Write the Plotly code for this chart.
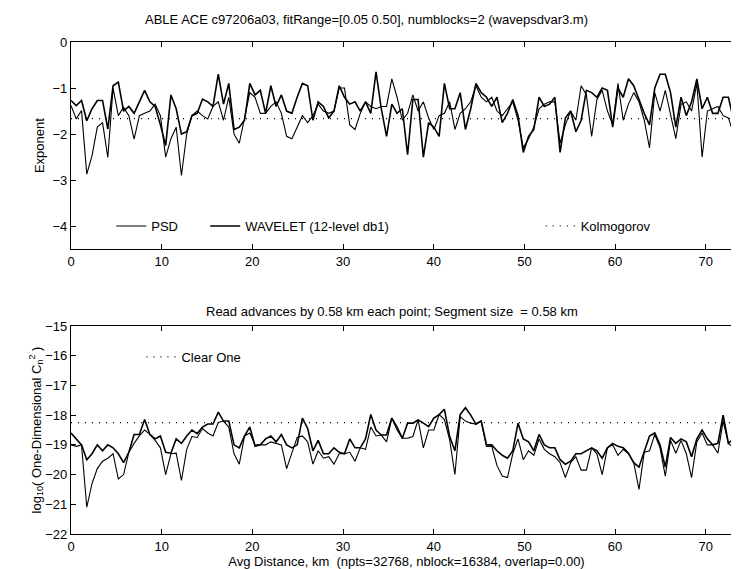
import plotly.graph_objects as go

# spacing between points (km), from the subtitle
step = 0.58
npts = 128

# exponent from the wavelet fit
wavelet_exp = [
    -1.27, -1.38, -1.27, -1.71, -1.45, -1.27, -1.27, -1.89, -0.95, -0.87,
    -1.5, -1.4, -1.55, -1.3, -1.05, -1.3, -1.4, -1.8, -2.25, -1.15,
    -1.45, -2.0, -1.95, -1.6, -1.55, -1.24, -1.3, -1.4, -0.7, -1.35,
    -0.9, -1.9, -1.85, -1.7, -0.9, -1.15, -1.05, -1.55, -0.95, -1.4,
    -1.15, -1.5, -1.55, -1.2, -0.9, -0.95, -1.7, -1.3, -1.4, -1.65,
    -1.5, -0.95, -1.2, -1.35, -1.3, -1.5, -1.3, -1.55, -0.65, -1.45,
    -2.05, -1.35, -1.55, -1.45, -2.45, -1.25, -1.25, -2.5, -1.75, -1.85,
    -2.05, -0.9, -1.45, -1.45, -1.1, -1.9, -1.45, -0.9, -1.1, -1.2,
    -1.4, -1.2, -1.75, -1.55, -1.25, -1.6, -2.4, -2.05, -1.9, -1.2,
    -1.4, -1.35, -1.2, -2.4, -1.65, -1.5, -1.95, -1.7, -1.05, -1.1,
    -1.2, -1.0, -1.05, -1.85, -1.0, -1.2, -0.8, -0.95, -1.25, -1.55,
    -1.8, -1.0, -0.7, -0.7, -1.1, -1.85, -1.2, -1.6, -1.3, -0.8,
    -1.45, -1.2, -1.55, -1.55, -1.2, -1.2, -1.7, -1.75,
]

# exponent from the PSD fit
psd_exp = [
    -1.38, -1.67, -1.49, -2.87, -2.47, -1.85, -1.75, -2.51, -1.0, -1.6,
    -1.42, -1.6, -2.11, -1.6, -1.55, -1.5, -1.35, -1.6, -2.5, -2.1,
    -1.85, -2.9, -2.0, -1.6, -1.5, -1.6, -1.67, -1.4, -1.3, -1.7,
    -1.2, -2.0, -2.2, -1.65, -1.1, -1.2, -1.55, -1.55, -1.4, -1.3,
    -1.55, -2.05, -2.1, -1.85, -1.6, -1.75, -1.6, -1.35, -1.5, -1.55,
    -1.5, -1.0, -1.0, -1.8, -1.9, -1.55, -1.3, -1.4, -1.45, -1.4,
    -1.4, -0.8, -1.2, -1.7, -1.55, -1.15, -1.5, -1.3, -1.65, -1.9,
    -1.6, -1.55, -1.3, -1.9, -1.55, -1.45, -1.3, -0.95, -1.2, -1.3,
    -1.2, -1.5, -1.6, -1.45, -1.3, -1.7, -2.3, -2.1, -1.85, -1.45,
    -1.35, -1.3, -1.3, -2.2, -1.8, -1.5, -1.7, -0.95, -1.15, -2.05,
    -1.25, -1.05, -1.5, -1.8, -0.9, -1.7, -1.35, -1.1, -1.3, -1.7,
    -2.3, -1.1, -1.5, -1.05, -1.6, -2.1, -1.35, -1.3, -1.5, -0.9,
    -2.5, -1.5, -1.45, -1.4, -1.6, -1.65, -2.0, -1.55,
]

# log10 Cn2, first estimate
cn2_a = [
    -18.6, -18.8, -19.0, -19.5, -19.3, -19.0, -19.2, -19.0, -19.1, -19.3,
    -19.6, -19.25, -18.65, -18.65, -18.15, -18.65, -18.8, -18.7, -19.25, -19.28,
    -18.8, -18.95, -18.7, -18.5, -18.62, -18.4, -18.3, -18.3, -17.9, -18.2,
    -18.2, -19.0, -19.1, -18.7, -18.4, -19.05, -19.0, -18.8, -18.7, -18.9,
    -18.65, -19.0, -19.1, -19.0, -18.1, -18.45, -19.2, -18.85, -19.3, -19.3,
    -19.1, -19.25, -19.3, -18.8, -19.1, -19.1, -18.8, -17.98, -18.5, -18.67,
    -18.67, -18.1, -18.4, -18.78, -18.27, -18.27, -18.16, -18.27, -18.39, -18.1,
    -17.98, -17.8, -18.72, -19.2, -17.98, -17.75, -18.0, -18.3, -18.2, -19.0,
    -19.0, -19.2, -19.35, -19.45, -19.2, -18.27, -18.8, -18.9, -19.2, -18.65,
    -19.0, -19.1, -19.1, -19.5, -19.65, -19.55, -19.3, -19.3, -19.2, -19.1,
    -19.2, -19.45, -19.1, -18.95, -19.05, -19.1, -19.28, -19.6, -19.75, -19.2,
    -18.7, -18.6, -19.0, -19.75, -18.75, -18.95, -18.8, -18.9, -19.4, -18.8,
    -18.5, -18.8, -19.0, -18.95, -18.0, -18.95, -18.8, -18.8,
]

# log10 Cn2, second estimate
cn2_b = [
    -19.0, -19.05, -19.0, -21.1, -20.3, -19.8, -19.55, -19.45, -19.3, -20.15,
    -20.0, -19.25, -18.95, -18.7, -18.5, -18.65, -18.85, -19.1, -20.0, -19.3,
    -19.28, -20.2, -19.15, -18.72, -18.75, -18.45, -18.6, -18.7, -18.25, -18.2,
    -18.4, -19.3, -19.65, -18.7, -18.6, -19.0, -19.0, -19.0, -18.9, -18.95,
    -19.0, -19.8, -19.3, -18.75, -18.7, -18.9, -19.65, -19.2, -19.45, -19.4,
    -19.65, -19.3, -19.3, -19.25, -19.55, -19.1, -19.15, -18.4, -18.7, -18.67,
    -18.9, -18.1, -18.5, -18.78, -18.78, -18.72, -18.16, -19.1, -18.5, -18.5,
    -17.98, -18.15, -18.83, -20.0, -18.05, -18.2, -18.27, -18.3, -18.2, -19.05,
    -19.05, -19.7, -20.05, -20.1, -19.3, -18.8, -19.5, -19.2, -19.35, -18.8,
    -19.15, -19.3, -19.4, -19.6, -20.1, -19.6, -19.4, -19.85, -19.85, -19.1,
    -19.3, -20.0, -19.1, -19.0, -19.35, -19.15, -19.3, -19.6, -20.5, -19.25,
    -19.2, -18.65, -19.1, -20.05, -18.85, -19.28, -18.85, -19.3, -20.1, -18.9,
    -18.6, -19.0, -19.0, -19.28, -18.2, -18.95, -19.1, -19.1,
]

kolmogorov = -5.0 / 3.0
clear_one = -18.25

x_ticks = [0, 10, 20, 30, 40, 50, 60, 70]
exp_ticks = [0, -1, -2, -3, -4]
cn2_ticks = [-15, -16, -17, -18, -19, -20, -21, -22]

FONT = "Liberation Sans, Arial, sans-serif"

x = [round(i * step, 2) for i in range(npts)]
x_ends = [x[0], x[-1]]

fig = go.Figure()

# painel de cima
fig.add_trace(go.Scatter(x=x, y=psd_exp, mode='lines', name='PSD',
                         line=dict(color='black', width=1.1), legend='legend'))
fig.add_trace(go.Scatter(x=x, y=wavelet_exp, mode='lines', name='WAVELET (12-level db1)',
                         line=dict(color='black', width=1.6), legend='legend2'))
fig.add_trace(go.Scatter(x=x_ends, y=[kolmogorov, kolmogorov], mode='lines', name='Kolmogorov',
                         line=dict(color='black', width=1.2, dash='1px,6px'), legend='legend3'))

# painel de baixo
fig.add_trace(go.Scatter(x=x, y=cn2_a, mode='lines', showlegend=False,
                         line=dict(color='black', width=1.6), xaxis='x2', yaxis='y2'))
fig.add_trace(go.Scatter(x=x, y=cn2_b, mode='lines', showlegend=False,
                         line=dict(color='black', width=1.1), xaxis='x2', yaxis='y2'))
fig.add_trace(go.Scatter(x=x_ends, y=[clear_one, clear_one], mode='lines', name='Clear One',
                         line=dict(color='black', width=1.2, dash='1px,6px'),
                         xaxis='x2', yaxis='y2', legend='legend4'))

axis_style = dict(showline=True, linecolor='black', linewidth=1.2, mirror='ticks',
                  ticks='inside', ticklen=5, tickcolor='black', showgrid=False,
                  zeroline=False, tickfont=dict(size=13, color='black'))

legend_style = dict(bgcolor='rgba(0,0,0,0)', xanchor='left', yanchor='middle',
                    font=dict(size=13, color='black', family=FONT), borderwidth=0)

fig.update_layout(
    width=739, height=569,
    margin=dict(l=63, r=5, t=34, b=43),
    paper_bgcolor='white', plot_bgcolor='white',
    font=dict(family=FONT, size=13, color='black'),
    xaxis=dict(axis_style, domain=[0, 1], range=[0, 74], tickvals=x_ticks, anchor='y'),
    yaxis=dict(axis_style, domain=[0.579, 1], range=[-4.5, 0], tickvals=exp_ticks,
               title=dict(text='Exponent', font=dict(size=13), standoff=4), anchor='x'),
    xaxis2=dict(axis_style, domain=[0, 1], range=[0, 74], tickvals=x_ticks, anchor='y2',
                title=dict(text='Avg Distance, km  (npts=32768, nblock=16384, overlap=0.00)',
                           font=dict(size=13), standoff=4)),
    yaxis2=dict(axis_style, domain=[0, 0.4228], range=[-22, -15], tickvals=cn2_ticks,
                title=dict(text='log<sub>10</sub>( One-Dimensional C<sub>n</sub><sup>2</sup> )',
                           font=dict(size=13), standoff=0), anchor='x2'),
    legend=dict(legend_style, x=0.06, y=0.626),
    legend2=dict(legend_style, x=0.2, y=0.626),
    legend3=dict(legend_style, x=0.70, y=0.626),
    legend4=dict(legend_style, x=0.105, y=0.36),
    annotations=[
        dict(text='ABLE ACE c97206a03, fitRange=[0.05 0.50], numblocks=2 (wavepsdvar3.m)',
             xref='paper', yref='paper', x=0.44, y=1.045, showarrow=False,
             xanchor='center', yanchor='middle', font=dict(size=13)),
        dict(text='Read advances by 0.58 km each point; Segment size  = 0.58 km',
             xref='paper', yref='paper', x=0.478, y=0.453, showarrow=False,
             xanchor='center', yanchor='middle', font=dict(size=13)),
    ],
)

fig.write_html("out.html")
